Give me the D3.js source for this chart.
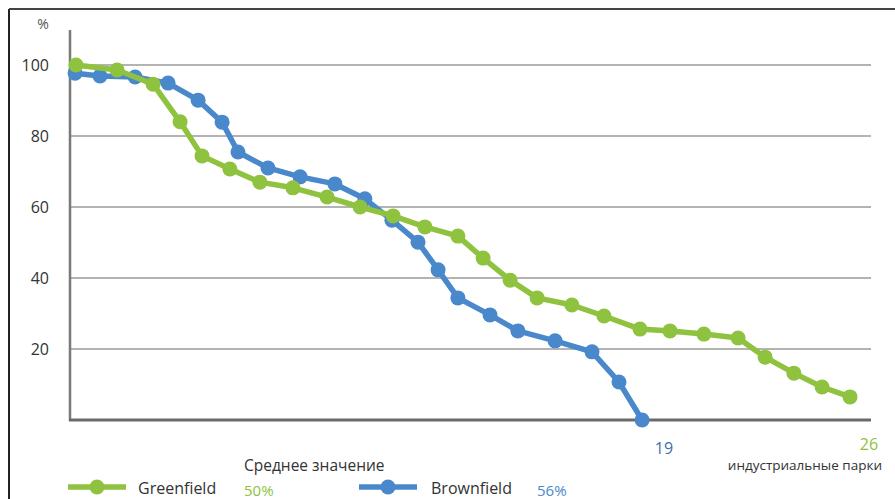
<!DOCTYPE html>
<html>
<head>
<meta charset="utf-8">
<script src="https://cdn.jsdelivr.net/npm/d3@7"></script>
<style>
  body { margin: 0; background: #fff; }
  text { font-family: "Open Sans", "Noto Sans", sans-serif; }
</style>
</head>
<body>
<div id="chart"></div>
<script>
// data (x = position along the parks axis, y = %)
var green_x = [0.2, 1.57, 2.77, 3.67, 4.4, 5.33, 6.33, 7.43, 8.57, 9.67, 10.77, 11.83, 12.93,
               13.77, 14.67, 15.57, 16.73, 17.8, 19.0, 20.0, 21.13, 22.27, 23.17, 24.13, 25.07, 26.0]
var green_y = [100, 98.6, 94.6, 84, 74.4, 70.7, 67, 65.4, 62.8, 60, 57.5, 54.4, 51.8,
               45.6, 39.4, 34.4, 32.4, 29.3, 25.6, 25.1, 24.2, 23.1, 17.7, 13.2, 9.3, 6.5]
var blue_x = [0.17, 1.0, 2.17, 3.27, 4.27, 5.07, 5.6, 6.6, 7.67, 8.83, 9.83, 10.73, 11.6,
              12.27, 12.93, 14.0, 14.93, 16.17, 17.4, 18.3, 19.07]
var blue_y = [97.7, 96.9, 96.6, 94.9, 90.1, 83.9, 75.5, 71, 68.5, 66.5, 62.3, 56.3, 50.1,
              42.3, 34.4, 29.6, 25.1, 22.3, 19.2, 10.7, 0]
var y_ticks = [20, 40, 60, 80, 100]

var green = "#8fc23f"
var blue = "#4a88cc"

var width = 895
var height = 499

var svg = d3.select("#chart")
  .append("svg")
    .attr("width", width)
    .attr("height", height)

// frame (left + top edge)
svg.append("line").attr("x1", 9).attr("x2", 9).attr("y1", 9).attr("y2", height)
  .attr("stroke", "#222").attr("stroke-width", 2)
svg.append("line").attr("x1", 9).attr("x2", width).attr("y1", 9).attr("y2", 9)
  .attr("stroke", "#444").attr("stroke-width", 2)

var x = d3.scaleLinear().domain([0, 26]).range([70, 850])
var y = d3.scaleLinear().domain([0, 100]).range([420, 65])
var x_end = 871

// gridlines
svg.selectAll("grid")
  .data(y_ticks)
  .enter()
  .append("line")
    .attr("x1", 70).attr("x2", x_end)
    .attr("y1", function(d) { return y(d) })
    .attr("y2", function(d) { return y(d) })
    .attr("stroke", "#9a9a9a")
    .attr("stroke-width", 1.5)

// tick labels
svg.selectAll("ticklabels")
  .data(y_ticks)
  .enter()
  .append("text")
    .attr("x", 49)
    .attr("y", function(d) { return y(d) + 6 })
    .attr("text-anchor", "end")
    .attr("fill", "#333")
    .style("font-size", "16px")
    .text(function(d) { return d })

svg.append("text").attr("x", 43).attr("y", 29).attr("text-anchor", "middle")
  .attr("fill", "#555").style("font-size", "14px").text("%")

// axes
svg.append("line").attr("x1", 70).attr("x2", 70).attr("y1", 30).attr("y2", y(0) + 1)
  .attr("stroke", "#7a7a7a").attr("stroke-width", 2.5)
svg.append("line").attr("x1", 69).attr("x2", x_end).attr("y1", y(0)).attr("y2", y(0))
  .attr("stroke", "#6a6a6a").attr("stroke-width", 3)

function draw_series(xs, ys, color) {
  var pts = xs.map(function(d, i) { return [d, ys[i]] })
  var line = d3.line()
    .x(function(d) { return x(d[0]) })
    .y(function(d) { return y(d[1]) })
  svg.append("path")
    .datum(pts)
    .attr("d", line)
    .attr("fill", "none")
    .attr("stroke", color)
    .attr("stroke-width", 5.5)
    .attr("stroke-linejoin", "round")
  svg.selectAll("dots")
    .data(pts)
    .enter()
    .append("circle")
      .attr("cx", function(d) { return x(d[0]) })
      .attr("cy", function(d) { return y(d[1]) })
      .attr("r", 7.5)
      .attr("fill", color)
}

draw_series(blue_x, blue_y, blue)
draw_series(green_x, green_y, green)

// end labels
svg.append("text").attr("x", 664).attr("y", 454).attr("text-anchor", "middle")
  .attr("fill", "#3f6fae").style("font-size", "16px").text("19")
svg.append("text").attr("x", 869).attr("y", 450).attr("text-anchor", "middle")
  .attr("fill", green).style("font-size", "16px").text("26")
svg.append("text").attr("x", 882).attr("y", 470).attr("text-anchor", "end")
  .attr("fill", "#333").style("font-size", "13.5px").text("индустриальные парки")

// legend
function legend_item(x0, color, label, label_x, pct, pct_x) {
  svg.append("line").attr("x1", x0).attr("x2", x0 + 58).attr("y1", 487).attr("y2", 487)
    .attr("stroke", color).attr("stroke-width", 5.5)
  svg.append("circle").attr("cx", x0 + 29).attr("cy", 487).attr("r", 7.5).attr("fill", color)
  svg.append("text").attr("x", label_x).attr("y", 494)
    .attr("fill", "#333").style("font-size", "16px").text(label)
  svg.append("text").attr("x", pct_x).attr("y", 496)
    .attr("fill", color).style("font-size", "15px").text(pct)
}
legend_item(68, green, "Greenfield", 138, "50%", 244)
legend_item(359, blue, "Brownfield", 431, "56%", 537)

svg.append("text").attr("x", 244).attr("y", 471)
  .attr("fill", "#333").style("font-size", "15.5px").text("Среднее  значение")
</script>
</body>
</html>
